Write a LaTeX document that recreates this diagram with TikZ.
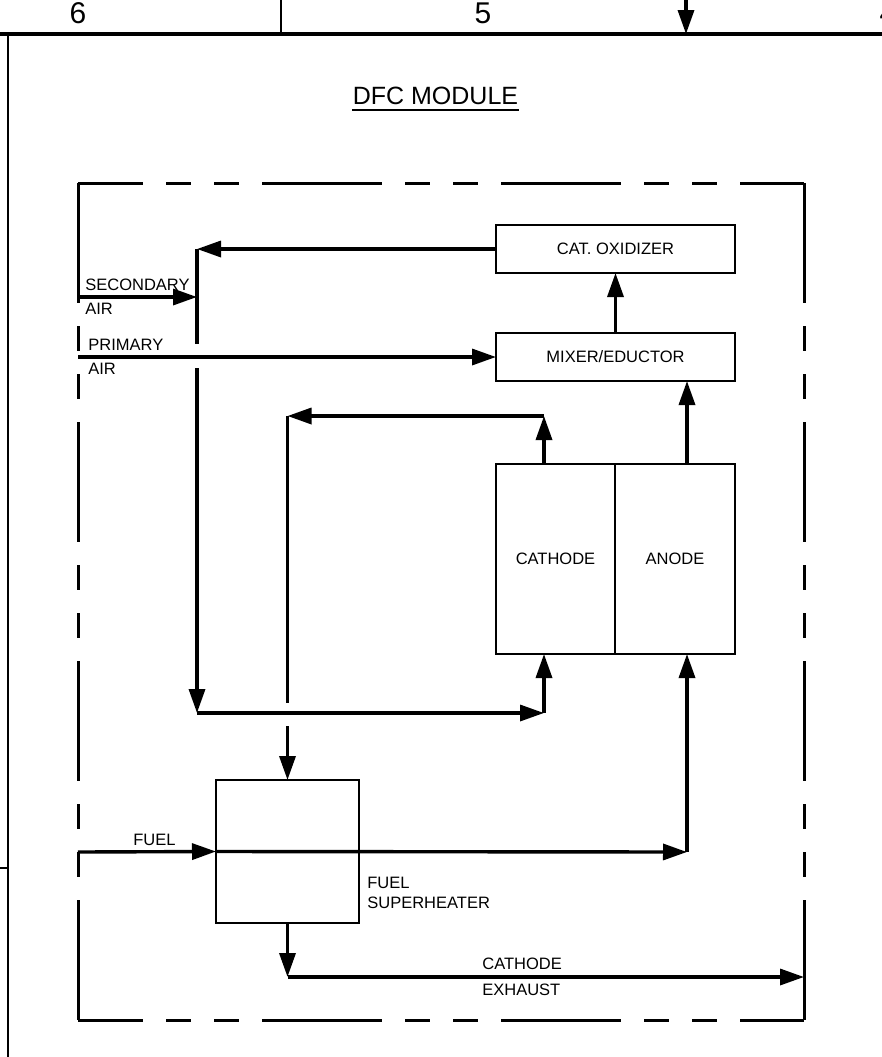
\documentclass[tikz,border=0pt]{standalone}
\usepackage{fontspec}
\setmainfont{Liberation Sans}
\usetikzlibrary{positioning,arrows.meta,calc}

\begin{document}
\begin{tikzpicture}[
  x=0.5pt,y=-0.5pt,
  box/.style={draw,line width=1pt,inner sep=0pt,outer sep=0pt,align=center,font=\fontsize{8.25}{10}\selectfont},
  lbl/.style={anchor=west,inner sep=0pt,align=left,font=\fontsize{8.25}{12}\selectfont},
  arr/.style={-{Triangle[length=12pt,width=8pt]},line width=1.7pt},
  flow/.style={line width=1.7pt},
  brd/.style={line width=1.5pt,dash pattern=on 60pt off 11.5pt on 12.5pt off 11.5pt on 12.5pt off 11.5pt},
  zone/.style={inner sep=0pt,font=\fontsize{15}{18}\selectfont}]
\clip (0,0) rectangle (882,1057);
% drawing frame
\draw[line width=2pt] (0,34) -- (882,34);
\draw[line width=1pt] (281,0) -- (281,34);
\draw[line width=1pt] (8,34) -- (8,1057);
\draw[line width=1pt] (0,868) -- (8,868);
\draw[arr] (686,0) -- (686,34);
\node[zone] (z6) at (78,13) {6};
\node[zone] (z5) at (483,13) {5};
\node[zone] (z4) at (888,13) {4};
% title
\node[inner xsep=0pt,inner ysep=2.5pt,font=\fontsize{12.5}{15}\selectfont] (ttl) at (435.5,96) {DFC MODULE};
\draw[line width=1pt] (ttl.south west) -- (ttl.south east);
% module boundary
\draw[brd,dash phase=27.5pt] (78,183) -- (804,183);
\draw[brd,dash phase=27.5pt] (78,1020) -- (804,1020);
\draw[brd] (78,183) -- (78,1020);
\draw[brd] (804,183) -- (804,1020);
% components
\node[box,minimum width=119.5pt,minimum height=24pt] (cat) at (615.5,249) {CAT. OXIDIZER};
\node[box,minimum width=119.5pt,minimum height=24pt,below=30pt of cat] (mix) {MIXER/EDUCTOR};
\node[box,minimum width=59.5pt,minimum height=95pt] (cath) at (555.5,559) {CATHODE};
\node[box,minimum width=60pt,minimum height=95pt,right=0pt of cath] (anod) {ANODE};
\node[box,minimum width=71.5pt,minimum height=71.5pt] (heat) at (287.5,851.5) {};
% junctions
\coordinate (sin) at (78,297);
\coordinate (pin) at (78,357);
\coordinate (fin) at (78,852);
\coordinate (ltop) at (197,249);
\coordinate (secj) at (197,297);
\coordinate (lbot) at (197,713);
\coordinate (cbot) at (544,713);
\coordinate (ctop) at (544,416);
\coordinate (rtop) at (287.5,416);
\coordinate (fend) at (687,852);
\coordinate (xbeg) at (287.5,977);
\coordinate (xend) at (804,977);
% flows
\draw[arr] (cat.west) -- (ltop);
\draw[arr] (sin) -- (secj);
\draw[flow,shorten >=6.5pt] (ltop) -- (ltop |- pin);
\draw[arr,shorten <=5.5pt] (ltop |- pin) -- (lbot);
\draw[arr] (lbot) -- (cbot);
\draw[arr] (cbot) -- (cbot |- cath.south);
\draw[arr] (pin) -- (mix.west);
\draw[arr] (mix.north) -- (cat.south);
\draw[arr] (anod.north -| fend) -- (mix.south -| fend);
\draw[arr] (cath.north -| ctop) -- (ctop);
\draw[arr] (ctop) -- (rtop);
\draw[flow,shorten >=5pt] (rtop) -- (rtop |- lbot);
\draw[arr,shorten <=6.5pt] (rtop |- lbot) -- (heat.north);
\draw[arr] (fin) -- (heat.west);
\draw[arr] (heat.west) -- (fend);
\draw[arr] (fend) -- (fend |- anod.south);
\draw[arr] (heat.south) -- (xbeg);
\draw[arr] (xbeg) -- (xend);
% labels
\node[lbl] (secl) at (85,297) {SECONDARY\\AIR};
\node[lbl] (pril) at (88,357) {PRIMARY\\AIR};
\node[lbl] (fuell) at (133,840) {FUEL};
\node[lbl,font=\fontsize{8.25}{10}\selectfont] (heatl) at (367,893) {FUEL\\SUPERHEATER};
\node[lbl,font=\fontsize{8.25}{13}\selectfont] (exhl) at (482,977) {CATHODE\\EXHAUST};
\end{tikzpicture}
\end{document}
